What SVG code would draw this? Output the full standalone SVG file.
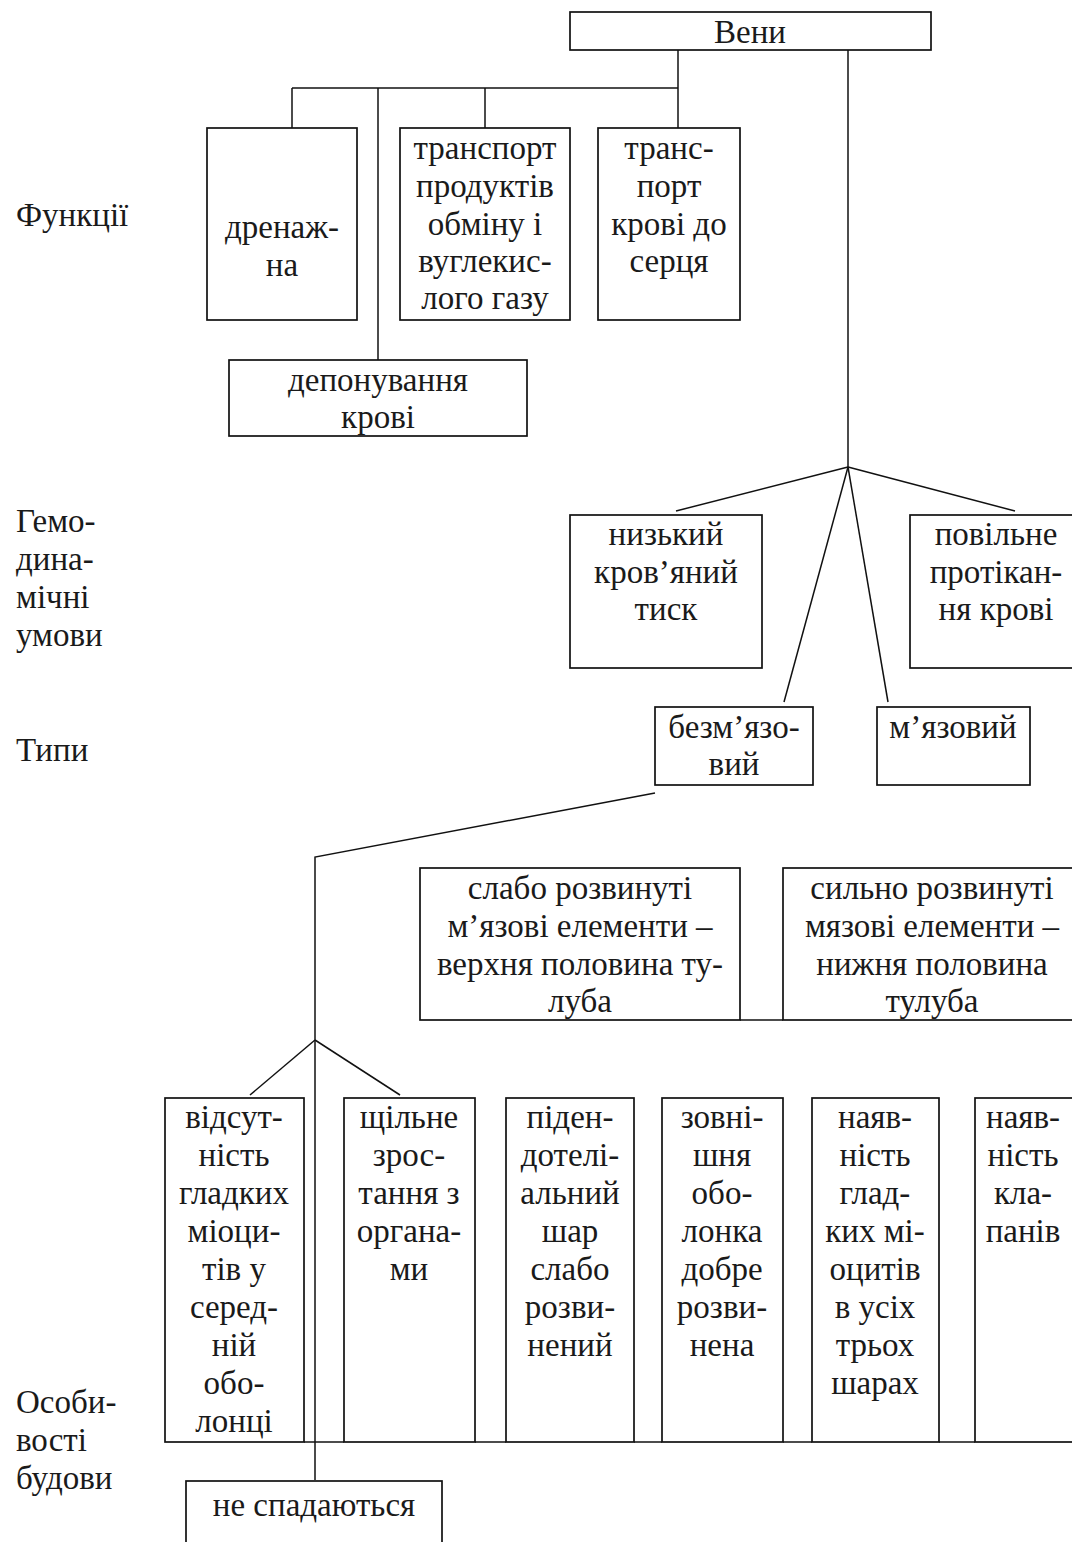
<svg xmlns="http://www.w3.org/2000/svg" width="1072" height="1542" viewBox="0 0 1072 1542">
  <style>
    .bg { fill: #ffffff; }
    .box { fill: none; stroke: #111; stroke-width: 1.7; }
    .ln { fill: none; stroke: #111; stroke-width: 1.5; }
    text { font-family: "Liberation Serif", "Times New Roman", serif; font-size: 33px; fill: #1a1a1a; }
    .c { text-anchor: middle; }
  </style>
  <rect class="bg" x="0" y="0" width="1072" height="1542"/>

  <!-- row labels -->
  <g id="labels">
    <text x="16" y="226">Функції</text>
    <text x="16" y="532">Гемо-</text>
    <text x="16" y="570">дина-</text>
    <text x="16" y="608">мічні</text>
    <text x="16" y="646">умови</text>
    <text x="16" y="761">Типи</text>
    <text x="16" y="1413">Особи-</text>
    <text x="16" y="1451">вості</text>
    <text x="16" y="1489">будови</text>
  </g>

  <!-- connectors -->
  <g id="connectors">
    <polyline class="ln" points="678,50 678,88"/>
    <line class="ln" x1="292" y1="88" x2="678" y2="88"/>
    <line class="ln" x1="292" y1="88" x2="292" y2="128"/>
    <line class="ln" x1="378" y1="88" x2="378" y2="360"/>
    <line class="ln" x1="485" y1="88" x2="485" y2="128"/>
    <line class="ln" x1="678" y1="88" x2="678" y2="128"/>
    <line class="ln" x1="848" y1="50" x2="848" y2="467"/>
    <line class="ln" x1="848" y1="467" x2="676" y2="511"/>
    <line class="ln" x1="848" y1="467" x2="1015" y2="511"/>
    <line class="ln" x1="848" y1="467" x2="784" y2="702"/>
    <line class="ln" x1="848" y1="467" x2="888" y2="702"/>
    <polyline class="ln" points="655,793 315,857 315,1480"/>
    <line class="ln" x1="315" y1="1040" x2="250" y2="1095"/>
    <line class="ln" x1="315" y1="1040" x2="400" y2="1095"/>
    <line class="ln" x1="740" y1="1020" x2="783" y2="1020"/>
    <line class="ln" x1="304" y1="1442" x2="344" y2="1442"/>
    <line class="ln" x1="475" y1="1442" x2="506" y2="1442"/>
    <line class="ln" x1="634" y1="1442" x2="662" y2="1442"/>
    <line class="ln" x1="783" y1="1442" x2="812" y2="1442"/>
    <line class="ln" x1="939" y1="1442" x2="975" y2="1442"/>
  </g>

  <g id="veny">
    <rect class="box" x="570" y="12" width="361" height="38"/>
    <text class="c" x="750" y="43">Вени</text>
  </g>

  <g id="drenazhna">
    <rect class="box" x="207" y="128" width="150" height="192"/>
    <text class="c" x="282" y="238">дренаж-</text>
    <text class="c" x="282" y="276">на</text>
  </g>

  <g id="transport-produktiv">
    <rect class="box" x="400" y="128" width="170" height="192"/>
    <text class="c" x="485" y="159">транспорт</text>
    <text class="c" x="485" y="197">продуктів</text>
    <text class="c" x="485" y="235">обміну і</text>
    <text class="c" x="485" y="272">вуглекис-</text>
    <text class="c" x="485" y="309">лого газу</text>
  </g>

  <g id="transport-krovi">
    <rect class="box" x="598" y="128" width="142" height="192"/>
    <text class="c" x="669" y="159">транс-</text>
    <text class="c" x="669" y="197">порт</text>
    <text class="c" x="669" y="235">крові до</text>
    <text class="c" x="669" y="272">серця</text>
  </g>

  <g id="deponuvannia">
    <rect class="box" x="229" y="360" width="298" height="76"/>
    <text class="c" x="378" y="391">депонування</text>
    <text class="c" x="378" y="428">крові</text>
  </g>

  <g id="nyzkyi-tysk">
    <rect class="box" x="570" y="515" width="192" height="153"/>
    <text class="c" x="666" y="545">низький</text>
    <text class="c" x="666" y="583">кров’яний</text>
    <text class="c" x="666" y="620">тиск</text>
  </g>

  <g id="povilne">
    <rect class="box" x="910" y="515" width="172" height="153"/>
    <text class="c" x="996" y="545">повільне</text>
    <text class="c" x="996" y="583">протікан-</text>
    <text class="c" x="996" y="620">ня крові</text>
  </g>

  <g id="bezmiazovyi">
    <rect class="box" x="655" y="707" width="158" height="78"/>
    <text class="c" x="734" y="738">безм’язо-</text>
    <text class="c" x="734" y="775">вий</text>
  </g>

  <g id="miazovyi">
    <rect class="box" x="877" y="707" width="153" height="78"/>
    <text class="c" x="953" y="738">м’язовий</text>
  </g>

  <g id="slabo">
    <rect class="box" x="420" y="868" width="320" height="152"/>
    <text class="c" x="580" y="899">слабо розвинуті</text>
    <text class="c" x="580" y="937">м’язові елементи –</text>
    <text class="c" x="580" y="975">верхня половина ту-</text>
    <text class="c" x="580" y="1012">луба</text>
  </g>

  <g id="sylno">
    <rect class="box" x="783" y="868" width="299" height="152"/>
    <text class="c" x="932" y="899">сильно розвинуті</text>
    <text class="c" x="932" y="937">мязові елементи –</text>
    <text class="c" x="932" y="975">нижня половина</text>
    <text class="c" x="932" y="1012">тулуба</text>
  </g>

  <g id="vidsutnist">
    <rect class="box" x="165" y="1098" width="139" height="344"/>
    <text class="c" x="234" y="1128">відсут-</text>
    <text class="c" x="234" y="1166">ність</text>
    <text class="c" x="234" y="1204">гладких</text>
    <text class="c" x="234" y="1242">міоци-</text>
    <text class="c" x="234" y="1280">тів у</text>
    <text class="c" x="234" y="1318">серед-</text>
    <text class="c" x="234" y="1356">ній</text>
    <text class="c" x="234" y="1394">обо-</text>
    <text class="c" x="234" y="1432">лонці</text>
  </g>

  <g id="shchilne">
    <rect class="box" x="344" y="1098" width="131" height="344"/>
    <text class="c" x="409" y="1128">щільне</text>
    <text class="c" x="409" y="1166">зрос-</text>
    <text class="c" x="409" y="1204">тання з</text>
    <text class="c" x="409" y="1242">органа-</text>
    <text class="c" x="409" y="1280">ми</text>
  </g>

  <g id="pidendotelialnyi">
    <rect class="box" x="506" y="1098" width="128" height="344"/>
    <text class="c" x="570" y="1128">піден-</text>
    <text class="c" x="570" y="1166">дотелі-</text>
    <text class="c" x="570" y="1204">альний</text>
    <text class="c" x="570" y="1242">шар</text>
    <text class="c" x="570" y="1280">слабо</text>
    <text class="c" x="570" y="1318">розви-</text>
    <text class="c" x="570" y="1356">нений</text>
  </g>

  <g id="zovnishnia">
    <rect class="box" x="662" y="1098" width="121" height="344"/>
    <text class="c" x="722" y="1128">зовні-</text>
    <text class="c" x="722" y="1166">шня</text>
    <text class="c" x="722" y="1204">обо-</text>
    <text class="c" x="722" y="1242">лонка</text>
    <text class="c" x="722" y="1280">добре</text>
    <text class="c" x="722" y="1318">розви-</text>
    <text class="c" x="722" y="1356">нена</text>
  </g>

  <g id="miotsyty">
    <rect class="box" x="812" y="1098" width="127" height="344"/>
    <text class="c" x="875" y="1128">наяв-</text>
    <text class="c" x="875" y="1166">ність</text>
    <text class="c" x="875" y="1204">глад-</text>
    <text class="c" x="875" y="1242">ких мі-</text>
    <text class="c" x="875" y="1280">оцитів</text>
    <text class="c" x="875" y="1318">в усіх</text>
    <text class="c" x="875" y="1356">трьох</text>
    <text class="c" x="875" y="1394">шарах</text>
  </g>

  <g id="klapany">
    <rect class="box" x="975" y="1098" width="107" height="344"/>
    <text class="c" x="1023" y="1128">наяв-</text>
    <text class="c" x="1023" y="1166">ність</text>
    <text class="c" x="1023" y="1204">кла-</text>
    <text class="c" x="1023" y="1242">панів</text>
  </g>

  <g id="ne-spadaiutsia">
    <rect class="box" x="186" y="1481" width="256" height="70"/>
    <text class="c" x="314" y="1516">не спадаються</text>
  </g>
</svg>
